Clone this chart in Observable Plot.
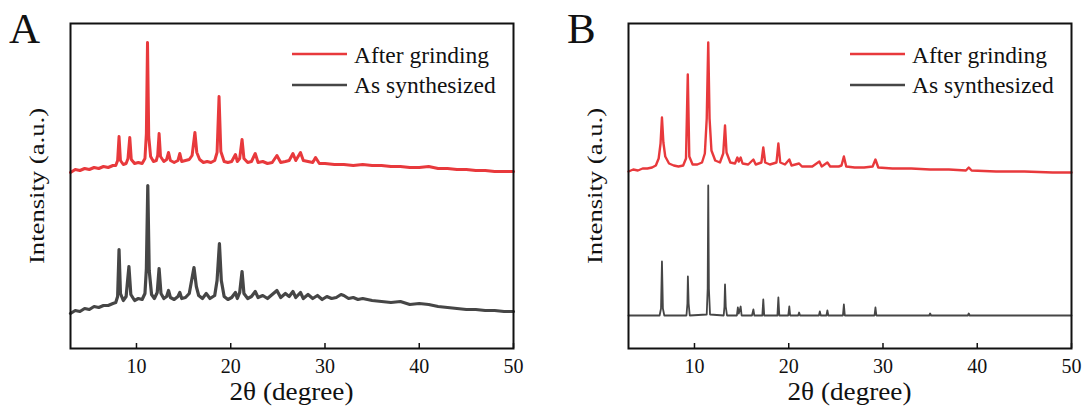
<!DOCTYPE html>
<html>
<head>
<meta charset="utf-8">
<script src="https://cdn.jsdelivr.net/npm/d3@7"></script>
<script src="https://cdn.jsdelivr.net/npm/@observablehq/plot@0.6"></script>
<style>
  html, body { margin: 0; padding: 0; background: #fff; overflow: hidden; }
  #fig { position: relative; width: 1085px; height: 409px; font-family: "Liberation Serif"; }
  .panel { position: absolute; top: 0; }
  #overlay { position: absolute; left: 0; top: 0; pointer-events: none; }
</style>
</head>
<body>
<div id="fig">
  <div class="panel" id="pa" style="left:0px"></div>
  <div class="panel" id="pb" style="left:558px"></div>
</div>
<script>
// ---------- data (2θ in degrees, intensity in a.u., traces already offset as drawn) ----------
const xTicks = [10, 20, 30, 40, 50];
const xDomain = [3, 50];
const seriesNames = ["After grinding", "As synthesized"];
const panelLetters = ["A", "B"];
const xTitle = "2θ (degree)";
const yTitle = "Intensity (a.u.)";

const afterGrindingA = [
  [3,176],[3.5,179],[4,178],[4.5,180],[5,179],[5.5,181],[6,180],[6.5,182],[7,181],[7.5,183],[7.8,183],
  [8.0,188],[8.15,212],[8.3,188],[8.6,184],[8.9,185],[9.1,190],[9.29,211],[9.45,189],[9.8,185],
  [10.2,186],[10.6,185],[10.9,190],[11.05,215],[11.17,306],[11.3,212],[11.5,192],[11.8,187],
  [12.1,188],[12.25,193],[12.4,215],[12.55,192],[12.9,187],[13.2,189],[13.4,196],[13.6,188],
  [14.0,186],[14.4,188],[14.6,195],[14.8,187],[15.2,188],[15.6,189],[15.9,193],[16.2,216],[16.4,196],
  [16.7,189],[17.1,186],[17.5,187],[17.9,186],[18.3,188],[18.55,196],[18.76,252],[18.95,197],[19.3,187],
  [19.7,186],[20.1,187],[20.5,194],[20.7,187],[20.95,190],[21.2,209],[21.4,190],[21.8,186],[22.2,187],
  [22.6,195],[22.9,186],[23.4,187],[23.9,185],[24.4,186],[24.9,193],[25.3,186],[25.8,187],[26.2,188],
  [26.6,195],[26.9,188],[27.4,196],[27.7,188],[28.2,187],[28.7,186],[29.0,191],[29.4,185],[30,185],
  [31,184],[32,184],[33,183],[34,184],[35,183],[36,183],[37,182],[38,182],[39,181],[40,181],[41,182],
  [42,180],[43,180],[44,179],[45,179],[46,178],[47,178],[48,177],[49,177],[50,177]
];
const asSynthesizedA = [
  [3,35],[3.5,38],[4,37],[4.5,40],[5,39],[5.5,42],[6,41],[6.5,43],[7,43],[7.5,45],[7.8,46],
  [8.0,52],[8.15,99],[8.3,55],[8.6,48],[8.9,52],[9.2,82],[9.4,54],[9.8,48],[10.2,50],[10.6,49],
  [10.9,55],[11.05,80],[11.2,163],[11.35,78],[11.6,54],[11.9,50],[12.2,56],[12.4,80],[12.6,55],
  [12.9,50],[13.2,52],[13.4,58],[13.6,51],[14.0,49],[14.4,52],[14.6,56],[14.8,50],[15.2,51],[15.6,55],
  [15.85,68],[16.1,81],[16.35,62],[16.6,53],[17.0,50],[17.4,55],[17.8,50],[18.3,53],[18.55,68],[18.8,105],
  [19.0,68],[19.3,52],[19.7,49],[20.1,51],[20.5,56],[20.7,50],[20.95,56],[21.2,77],[21.4,55],[21.8,50],
  [22.2,52],[22.6,57],[22.9,51],[23.4,53],[23.9,50],[24.4,54],[24.9,58],[25.3,51],[25.8,55],[26.2,52],
  [26.6,57],[26.9,51],[27.4,56],[27.7,50],[28.2,54],[28.7,50],[29.2,53],[29.7,49],[30.2,52],[30.7,50],
  [31.2,51],[31.7,54],[32.0,53],[32.5,50],[33,51],[33.5,49],[34,50],[35,48],[36,47],[37,46],[38,47],
  [39,44],[40,45],[41,44],[42,42],[43,41],[44,40],[45,39],[46,39],[47,38],[48,38],[49,37],[50,37]
];
const afterGrindingB = [
  [3,177],[3.5,179],[4,178],[4.5,180],[5,180],[5.5,181],[5.9,183],[6.2,190],[6.4,205],[6.55,231],
  [6.7,206],[6.9,192],[7.3,185],[7.8,183],[8.3,182],[8.8,183],[9.1,190],[9.29,274],[9.45,192],[9.8,184],
  [10.3,184],[10.8,186],[11.1,195],[11.3,230],[11.46,306],[11.6,230],[11.8,198],[12.2,188],[12.7,186],
  [13.05,195],[13.24,223],[13.4,196],[13.8,186],[14.3,185],[14.55,191],[14.7,187],[14.9,191],[15.1,185],
  [15.7,184],[16.25,189],[16.5,184],[17.1,186],[17.3,201],[17.5,186],[18.0,184],[18.7,186],[18.9,205],
  [19.1,186],[19.6,184],[20.06,189],[20.3,183],[21.1,185],[21.4,182],[22.5,182],[23.25,187],[23.5,182],
  [24.1,186],[24.4,182],[25.3,182],[25.6,183],[25.85,192],[26.1,182],[27,181],[28,181],[28.9,182],
  [29.2,189],[29.5,181],[31,180],[33,180],[35,179],[37,179],[38.8,178],[39.1,181],[39.4,178],[42,177],
  [45,177],[48,176],[50,176]
];
const asSynthesizedB = [
  [3,33],[5,33],[6.3,33],[6.45,40],[6.55,87],[6.65,40],[6.8,33],[9.15,33],[9.25,45],[9.3,72],[9.38,45],
  [9.5,33],[11.3,34],[11.4,60],[11.46,163],[11.53,60],[11.65,34],[13.1,33],[13.18,42],[13.24,64],
  [13.32,42],[13.45,33],[14.5,33],[14.6,41],[14.7,35],[14.9,42],[15.0,33],[16.1,33],[16.25,39],
  [16.35,33],[17.2,33],[17.3,49],[17.4,33],[18.8,33],[18.9,51],[19.0,33],[19.95,33],[20.06,42],
  [20.15,33],[21,33],[21.1,36],[21.2,33],[23.2,33],[23.3,37],[23.4,33],[24.0,33],[24.1,38],[24.2,33],
  [25.75,33],[25.85,44],[25.95,33],[29.1,33],[29.2,41],[29.3,33],[34.9,33],[35,35],[35.1,33],[39,33],
  [39.1,35],[39.2,33],[50,33]
];
const yDomain = [0, 325];

// ---------- styles ----------
const RED = "#e8393c";
const GRAY = "#464646";
const FONT = "Liberation Serif";

function panel(red, gray, width, marginRight, wRed, wGray) {
  return Plot.plot({
    width, height: 409,
    marginLeft: 70, marginRight, marginTop: 23, marginBottom: 61,
    style: {fontFamily: FONT, background: "transparent"},
    x: {domain: xDomain},
    y: {domain: yDomain, axis: null},
    marks: [
      Plot.line(red, {x: d => d[0], y: d => d[1], stroke: RED, strokeWidth: wRed, strokeLinejoin: "round"}),
      Plot.line(gray, {x: d => d[0], y: d => d[1], stroke: GRAY, strokeWidth: wGray, strokeLinejoin: "round"}),
      Plot.axisX({ticks: xTicks, tickSize: 0, tickPadding: 10, fontSize: 20, fill: "#111", label: null}),
      Plot.axisX({ticks: xTicks, tickSize: 5, dy: -5, tickFormat: () => "", stroke: "#111", strokeWidth: 1.5, label: null}),
      Plot.frame({stroke: "#111", strokeWidth: 2})
    ]
  });
}

document.getElementById("pa").appendChild(panel(afterGrindingA, asSynthesizedA, 540, 27, 3, 3.2));
document.getElementById("pb").appendChild(panel(afterGrindingB, asSynthesizedB, 527, 14, 2.4, 1.8));

// ---------- annotations (panel letters, axis titles, legends) ----------
const svg = d3.select("#fig").append("svg").attr("id", "overlay")
  .attr("width", 1085).attr("height", 409)
  .attr("font-family", FONT);

const offsets = [0, 558];
offsets.forEach((dx, i) => {
  svg.append("text").attr("x", 9 + dx).attr("y", 43).attr("font-size", 43).attr("fill", "#111").text(panelLetters[i]);
  svg.append("text").attr("x", 291.5 + dx).attr("y", 400).attr("text-anchor", "middle")
    .attr("font-size", 26).attr("fill", "#111")
    .attr("textLength", 124).attr("lengthAdjust", "spacingAndGlyphs").text(xTitle);
  svg.append("text").attr("transform", `translate(${44 + dx},186) rotate(-90)`)
    .attr("text-anchor", "middle").attr("font-size", 22).attr("fill", "#111")
    .attr("textLength", 156).attr("lengthAdjust", "spacingAndGlyphs").text(yTitle);
  const lx = 292 + dx;
  [[RED, 54, 63.3], [GRAY, 85, 92.5]].forEach(([c, ly, ty], j) => {
    svg.append("line").attr("x1", lx).attr("x2", lx + 55).attr("y1", ly).attr("y2", ly)
      .attr("stroke", c).attr("stroke-width", 2.5);
    svg.append("text").attr("x", lx + 62).attr("y", ty).attr("font-size", 23.5).attr("fill", "#111").text(seriesNames[j]);
  });
});
</script>
</body>
</html>
